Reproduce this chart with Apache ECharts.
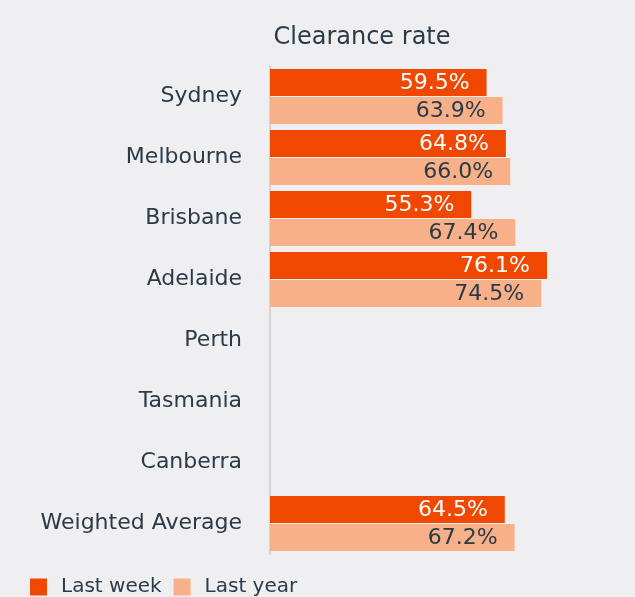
<!DOCTYPE html>
<html>
<head>
<meta charset="utf-8">
<script src="https://cdn.jsdelivr.net/npm/echarts@6/dist/echarts.min.js"></script>
<style>
  html, body { margin: 0; padding: 0; background: #efeff2; }
  #main { width: 635px; height: 597px; }
</style>
</head>
<body>
<div id="main"></div>
<script>
var cities = ["Sydney", "Melbourne", "Brisbane", "Adelaide", "Perth", "Tasmania", "Canberra", "Weighted Average"];
var lastWeek = [59.5, 64.8, 55.3, 76.1, null, null, null, 64.5];
var lastYear = [63.9, 66.0, 67.4, 74.5, null, null, null, 67.2];

var chartDom = document.getElementById("main");
var myChart = echarts.init(chartDom);
var font = "DejaVu Sans";
var dark = "#2b3a47";

function pct(p) { return p.value.toFixed(1) + "%"; }

var option = {
  backgroundColor: "#efeff2",
  animation: false,
  color: ["#f04800", "#f7b087"],
  title: {
    text: "Clearance rate",
    left: 357,
    top: 21,
    textAlign: "center",
    textStyle: { fontFamily: font, fontSize: 24, fontWeight: "normal", color: dark }
  },
  legend: {
    left: 25,
    top: 572,
    itemWidth: 17,
    itemHeight: 17,
    itemGap: 12,
    icon: "rect",
    textStyle: { fontFamily: font, fontSize: 20, color: dark, padding: [0, 0, 0, 9] },
    data: ["Last week", "Last year"]
  },
  grid: { left: 270, top: 66, width: 364, height: 488 },
  xAxis: {
    type: "value",
    min: 0,
    max: 100,
    show: false
  },
  yAxis: {
    type: "category",
    inverse: true,
    data: cities,
    axisLine: { lineStyle: { color: "#d3d3d6", width: 2 } },
    axisTick: { show: false },
    axisLabel: { fontFamily: font, fontSize: 22, color: dark, margin: 28 }
  },
  series: [
    {
      name: "Last week",
      type: "bar",
      data: lastWeek,
      barCategoryGap: "10%",
      barGap: "4%",
      label: {
        show: true,
        position: "insideRight",
        distance: 17,
        offset: [0, 1],
        formatter: pct,
        fontFamily: font,
        fontSize: 22,
        color: "#ffffff"
      }
    },
    {
      name: "Last year",
      type: "bar",
      data: lastYear,
      barCategoryGap: "10%",
      barGap: "4%",
      label: {
        show: true,
        position: "insideRight",
        distance: 17,
        offset: [0, 1],
        formatter: pct,
        fontFamily: font,
        fontSize: 22,
        color: dark
      }
    }
  ]
};

option && myChart.setOption(option);
</script>
</body>
</html>
